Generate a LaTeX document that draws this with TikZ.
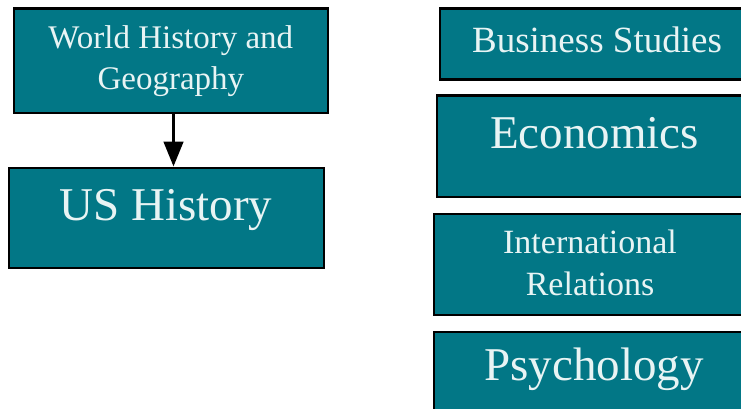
\documentclass[tikz,border=0pt]{standalone}
\usepackage{fontspec}
\setmainfont{Liberation Serif}
\usetikzlibrary{arrows.meta}
\definecolor{tealfill}{HTML}{027786}
\definecolor{paletext}{HTML}{E8F4F4}
\begin{document}
\begin{tikzpicture}[x=1pt,y=-1pt,
  box/.style={draw=black, line width=2.2pt, fill=tealfill, rectangle,
              inner sep=0pt, anchor=north west},
  txt/.style={text=paletext, align=center, inner sep=0pt},
  arr/.style={line width=3.2pt, -{Triangle[width=19.5pt,length=25pt]}}]
\useasboundingbox (0,0) rectangle (741,409);
\begin{scope}
\clip (0,0) rectangle (741,409);
% left column
\node[box, minimum width=314.5pt, minimum height=104.5pt] (whg) at (12.5,7.5) {};
\node[box, minimum width=315pt, minimum height=100pt] (us) at (8,166.5) {};
% right column (runs past the right edge)
\node[box, minimum width=316pt, minimum height=71pt] (bus) at (438.5,7.5) {};
\node[box, minimum width=318pt, minimum height=101pt] (eco) at (436,94.5) {};
\node[box, minimum width=318pt, minimum height=101.5pt] (ir) at (432.5,212.5) {};
\node[box, minimum width=324pt, minimum height=100pt] (psy) at (432.5,330.5) {};

% labels
\node[txt, font=\fontsize{33}{41}\selectfont] (twhg) at (whg.center) {World History and\\Geography};
\node[txt, font=\fontsize{47}{56}\selectfont, anchor=base] (tus) at (166,220) {US History};
\node[txt, font=\fontsize{37}{44}\selectfont, anchor=base] (tbus) at (597,53) {Business Studies};
\node[txt, font=\fontsize{47}{56}\selectfont, anchor=base] (teco) at (594.5,149) {Economics};
\node[txt, font=\fontsize{34}{42}\selectfont] (tir) at (590,262.5) {International\\Relations};
\node[txt, font=\fontsize{47}{56}\selectfont, anchor=base] (tpsy) at (594,380) {Psychology};

% connector
\coordinate (ax) at (173.5,0);
\draw[arr] (whg.south -| ax) -- (us.north -| ax);
\end{scope}
\end{tikzpicture}
\end{document}
